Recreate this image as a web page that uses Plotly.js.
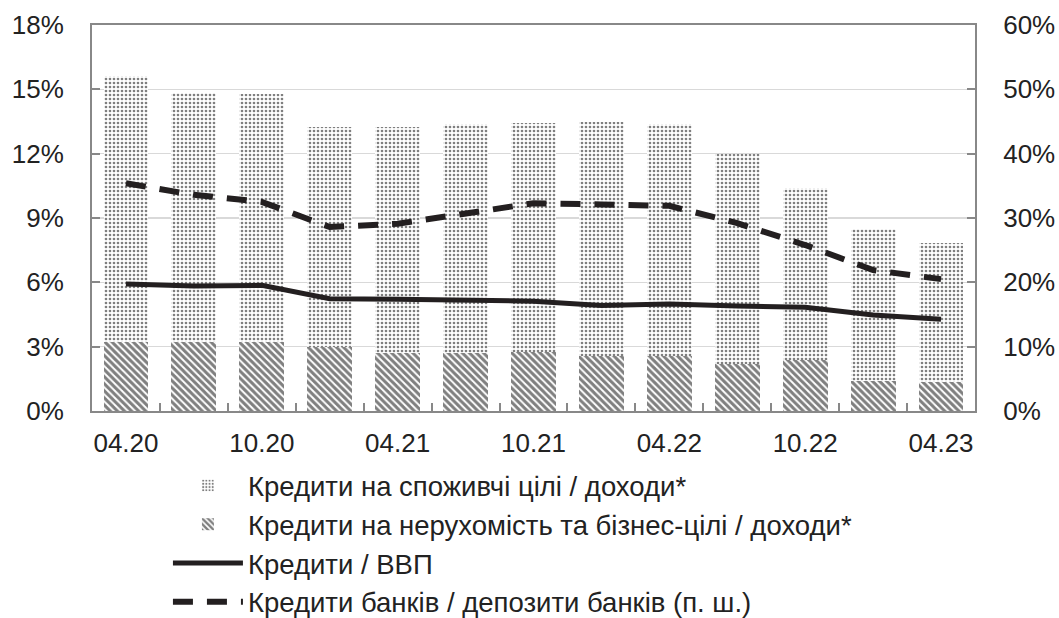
<!DOCTYPE html>
<html>
<head>
<meta charset="utf-8">
<script src="https://cdn.plot.ly/plotly-3.0.1.min.js"></script>
<style>html,body{margin:0;padding:0;background:#fff;}#chart{width:1059px;height:618px;}</style>
</head>
<body>
<div id="chart"></div>
<script>
const categories = ["04.20","07.20","10.20","01.21","04.21","07.21","10.21","01.22","04.22","07.22","10.22","01.23","04.23"];
const tickLabels = ["04.20","","10.20","","04.21","","10.21","","04.22","","10.22","","04.23"];
// Bar totals (left axis, %) and the hatched real-estate/business part
const totalIncome = [15.6, 14.85, 14.78, 13.26, 13.25, 13.38, 13.44, 13.5, 13.38, 11.97, 10.41, 8.5, 7.85];
const realEstateIncome = [3.2, 3.2, 3.2, 3.0, 2.7, 2.7, 2.75, 2.55, 2.55, 2.2, 2.4, 1.4, 1.35];
const consumerIncome = totalIncome.map((t, i) => +(t - realEstateIncome[i]).toFixed(2));
const loansGdp = [5.92, 5.83, 5.86, 5.24, 5.21, 5.19, 5.12, 4.92, 4.99, 4.9, 4.84, 4.48, 4.28];
const loansDeposits = [35.4, 33.6, 32.5, 28.6, 29.1, 30.6, 32.3, 32.1, 31.9, 29.2, 25.8, 21.9, 20.5];

const leftTicks = [0,3,6,9,12,15,18];
const rightTicks = [0,10,20,30,40,50,60];

const FONT = "Liberation Sans, Arial, sans-serif";
const TXT = "#222";
const LINE = "#231f20";

const traces = [
  {
    type: "bar", x: categories, y: realEstateIncome,
    name: "Кредити на нерухомість та бізнес-цілі / доходи*",
    legendrank: 2,
    marker: {color: "white", line: {width: 0},
      pattern: {shape: "\\", fgcolor: "black", bgcolor: "white", size: 5, solidity: 0.6, fillmode: "overlay"}},
    hoverinfo: "skip"
  },
  {
    type: "bar", x: categories, y: consumerIncome,
    name: "Кредити на споживчі цілі / доходи*",
    legendrank: 1,
    marker: {color: "white", line: {width: 0},
      pattern: {shape: ".", fgcolor: "black", bgcolor: "white", size: 4, solidity: 0.35, fillmode: "overlay"}},
    hoverinfo: "skip"
  },
  {
    type: "scatter", mode: "lines", x: categories, y: loansGdp,
    name: "Кредити / ВВП", legendrank: 3,
    line: {color: LINE, width: 5}
  },
  {
    type: "scatter", mode: "lines", x: categories, y: loansDeposits, yaxis: "y2",
    name: "Кредити банків / депозити банків (п. ш.)", legendrank: 4,
    line: {color: LINE, width: 6, dash: "20px,14px"}
  }
];

const layout = {
  width: 1059, height: 618,
  margin: {l: 92, r: 84, t: 25, b: 207, autoexpand: false},
  paper_bgcolor: "white", plot_bgcolor: "white",
  font: {family: FONT, size: 26, color: TXT},
  barmode: "stack", bargap: 0.34,
  showlegend: true,
  legend: {
    orientation: "v", x: 0.086, xanchor: "left", y: -0.1297, yanchor: "top",
    traceorder: "normal", itemwidth: 70,
    font: {family: FONT, size: 27.5, color: TXT},
    bgcolor: "rgba(0,0,0,0)", tracegroupgap: 0
  },
  xaxis: {
    type: "category", tickmode: "array", tickvals: categories, ticktext: tickLabels,
    tickson: "boundaries", ticks: "inside", ticklen: 8, tickcolor: "#888", tickwidth: 2,
    tickangle: 0, automargin: false,
    showline: true, linecolor: "#888", linewidth: 2, mirror: true,
    showgrid: false, tickfont: {size: 26, color: TXT}, ticklabelstandoff: 8
  },
  yaxis: {
    range: [0, 18], tickmode: "array", tickvals: leftTicks, ticktext: leftTicks.map(v => v + "%"),
    ticks: "inside", ticklen: 8, tickcolor: "#888", tickwidth: 2, automargin: false,
    showline: true, linecolor: "#888", linewidth: 2, ticklabelstandoff: 21,
    showgrid: true, gridcolor: "#d9d9d9", gridwidth: 1.5, zeroline: false,
    tickfont: {size: 26, color: TXT}
  },
  yaxis2: {
    range: [0, 60], overlaying: "y", side: "right",
    tickmode: "array", tickvals: rightTicks, ticktext: rightTicks.map(v => v + "%"),
    ticks: "inside", ticklen: 8, tickcolor: "#888", tickwidth: 2, automargin: false,
    showline: true, linecolor: "#888", linewidth: 2, ticklabelstandoff: 21,
    showgrid: false, zeroline: false,
    tickfont: {size: 26, color: TXT}
  }
};

Plotly.newPlot("chart", traces, layout, {displayModeBar: false, staticPlot: true});
</script>
</body>
</html>
